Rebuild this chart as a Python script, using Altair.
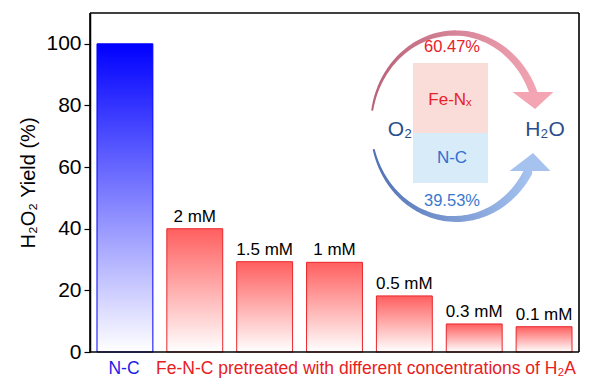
import altair as alt
import pandas as pd
import numpy as np

# ---- data ----
categories = ["N-C", "2 mM", "1.5 mM", "1 mM", "0.5 mM", "0.3 mM", "0.1 mM"]
yields = [100, 40, 29.3, 29.1, 18.2, 9.1, 8.2]
groups = ["N-C", "Fe-N-C", "Fe-N-C", "Fe-N-C", "Fe-N-C", "Fe-N-C", "Fe-N-C"]
bar_labels = ["", "2 mM", "1.5 mM", "1 mM", "0.5 mM", "0.3 mM", "0.1 mM"]
y_ticks = [0, 20, 40, 60, 80, 100]

inset_texts = ["60.47%", "Fe-Nₓ", "N-C", "39.53%", "O₂", "H₂O"]
fe_share, nc_share = 60.47, 39.53

FONT = "Liberation Sans"
W, H = 489, 339
YDOM = [0, 110]

df = pd.DataFrame({"cat": categories, "val": yields, "grp": groups, "lab": bar_labels})

xband = alt.X("cat:N", sort=categories,
              scale=alt.Scale(domain=categories, paddingInner=0.2, paddingOuter=0.1),
              axis=None)
ysc = alt.Scale(domain=YDOM, nice=False, zero=False)

def grad(top, bottom, horizontal=False):
    if horizontal:
        return alt.Gradient(gradient="linear",
                            stops=[alt.GradientStop(color=top, offset=0),
                                   alt.GradientStop(color=bottom, offset=1)],
                            x1=0, x2=1, y1=0, y2=0)
    return alt.Gradient(gradient="linear",
                        stops=[alt.GradientStop(color=top, offset=0),
                               alt.GradientStop(color=bottom, offset=1)],
                        x1=0, x2=0, y1=0, y2=1)

blue_bar = alt.Chart(df).transform_filter("datum.grp == 'N-C'").mark_bar(
    fill=grad("#0000ff", "#ffffff"), stroke="#0000ff", strokeWidth=1
).encode(
    x=xband,
    y=alt.Y("val:Q", scale=ysc,
            axis=alt.Axis(values=y_ticks, title="H₂O₂ Yield (%)", grid=False,
                          tickSize=6, tickColor="black", domainColor="black",
                          domainWidth=1.5, tickWidth=1.2,
                          labelFontSize=21, labelColor="black", labelPadding=3,
                          labelFontWeight="normal",
                          titleFontSize=20, titleFontWeight="normal", titleColor="black",
                          titlePadding=7, labelFont=FONT, titleFont=FONT)),
)

red_bars = alt.Chart(df).transform_filter("datum.grp == 'Fe-N-C'").mark_bar(
    fill=grad("#ff5f5f", "#ffffff"), stroke="#e8262b", strokeWidth=1
).encode(x=xband, y=alt.Y("val:Q", scale=ysc, axis=None))

bar_text = alt.Chart(df).transform_filter("datum.grp == 'Fe-N-C'").mark_text(
    baseline="bottom", dy=-3, fontSize=17, color="black", font=FONT
).encode(x=xband, y=alt.Y("val:Q", scale=ysc, axis=None), text="lab:N")

# ---- decorations: slot units along x (0..7), percent units along y ----
xq = alt.Scale(domain=[0, 7], nice=False, zero=False)

def px2x(px):
    return (px - 90) / W * 7

def py2y(py):
    return (352 - py) * YDOM[1] / H

# plot frame: four rules along the edges of the data area
frame_df = pd.DataFrame({
    "x": [0, 0, 0, 7], "x2": [7, 7, 0, 7],
    "y": [YDOM[0], YDOM[1], YDOM[0], YDOM[0]], "y2": [YDOM[0], YDOM[1], YDOM[1], YDOM[1]],
})
frame = alt.Chart(frame_df).mark_rule(color="black", strokeWidth=1.6, opacity=1).encode(
    x=alt.X("x:Q", scale=xq, axis=None), x2="x2:Q",
    y=alt.Y("y:Q", scale=ysc, axis=None), y2="y2:Q",
)

def text_layer(px, py, t, color, size):
    d = pd.DataFrame({"x": [px2x(px)], "y": [py2y(py)], "t": [t]})
    return alt.Chart(d).mark_text(font=FONT, baseline="middle", fontSize=size,
                                  color=color).encode(
        x=alt.X("x:Q", scale=xq, axis=None),
        y=alt.Y("y:Q", scale=ysc, axis=None),
        text="t:N",
    )

xlab1 = text_layer(124, 369, "N-C", "#1e1ee6", 17.5)
xlab2 = text_layer(366, 369, "Fe-N-C pretreated with different concentrations of H₂A",
                   "#e8201e", 17.5)

rect_df = pd.DataFrame({
    "x": [px2x(413), px2x(413)], "x2": [px2x(488), px2x(488)],
    "y": [py2y(63), py2y(133)], "y2": [py2y(133), py2y(183)],
    "c": ["#fadcd8", "#d8ebf8"],
})
rects = alt.Chart(rect_df).mark_rect().encode(
    x=alt.X("x:Q", scale=xq, axis=None), x2="x2:Q",
    y=alt.Y("y:Q", scale=ysc, axis=None), y2="y2:Q",
    color=alt.Color("c:N", scale=None),
)

# arcs of the diagram (ellipse around the boxes)
cx, cy, rx, ry = 455, 126, 84, 93

def arc_df(a0, a1, w0, w1, n=60):
    th = np.deg2rad(np.linspace(a0, a1, n))
    return pd.DataFrame({
        "i": np.arange(n),
        "x": px2x(cx + rx * np.cos(th)),
        "y": py2y(cy - ry * np.sin(th)),
        "w": np.linspace(w0, w1, n),
    })

def arc(d, g):
    return alt.Chart(d).mark_trail(fill=g, color=g, opacity=1).encode(
        x=alt.X("x:Q", scale=xq, axis=None),
        y=alt.Y("y:Q", scale=ysc, axis=None),
        size=alt.Size("w:Q", scale=None),
        order="i:Q",
    )

top_arc = arc(arc_df(170, 22, 2.0, 8.0), grad("#b8627a", "#f3a5b3", horizontal=True))
bot_arc = arc(arc_df(195, 330, 2.0, 9.0), grad("#5071b4", "#a6c3f0", horizontal=True))

def head(px, py, path, color):
    d = pd.DataFrame({"x": [px2x(px)], "y": [py2y(py)]})
    return alt.Chart(d).mark_point(shape=path, filled=True, size=2600, color=color,
                                   opacity=1, strokeWidth=0).encode(
        x=alt.X("x:Q", scale=xq, axis=None),
        y=alt.Y("y:Q", scale=ysc, axis=None),
    )

top_head = head(533, 100.5, "M-0.8,-0.33L0.8,-0.33L0.08,0.33Z", "#f3a5b3")
bot_head = head(530, 162, "M-0.8,0.35L0.8,0.35L0.12,-0.35Z", "#a6c3f0")

t1 = text_layer(452, 47, f"{fe_share:.2f}%", "#e8202a", 16.5)
t2 = text_layer(450, 100, inset_texts[1], "#e8202a", 17)
t3 = text_layer(452, 158, inset_texts[2], "#2f6fd0", 17)
t4 = text_layer(452, 201, f"{nc_share:.2f}%", "#3a78d0", 16.5)
t5 = text_layer(400, 130, inset_texts[4], "#2b4f8e", 21)
t6 = text_layer(545, 130, inset_texts[5], "#2b4f8e", 21)

chart = alt.layer(
    blue_bar, red_bars, bar_text, xlab1, xlab2, rects, top_arc, bot_arc,
    top_head, bot_head, t1, t2, t3, t4, t5, t6, frame
).resolve_scale(x="independent", y="independent").properties(
    width=W, height=H, autosize="none",
    padding={"left": 82, "top": 5, "right": 10, "bottom": 30},
).configure(font=FONT).configure_view(stroke=None)

chart.save("out.html", embed_options={"renderer": "svg", "actions": False})
